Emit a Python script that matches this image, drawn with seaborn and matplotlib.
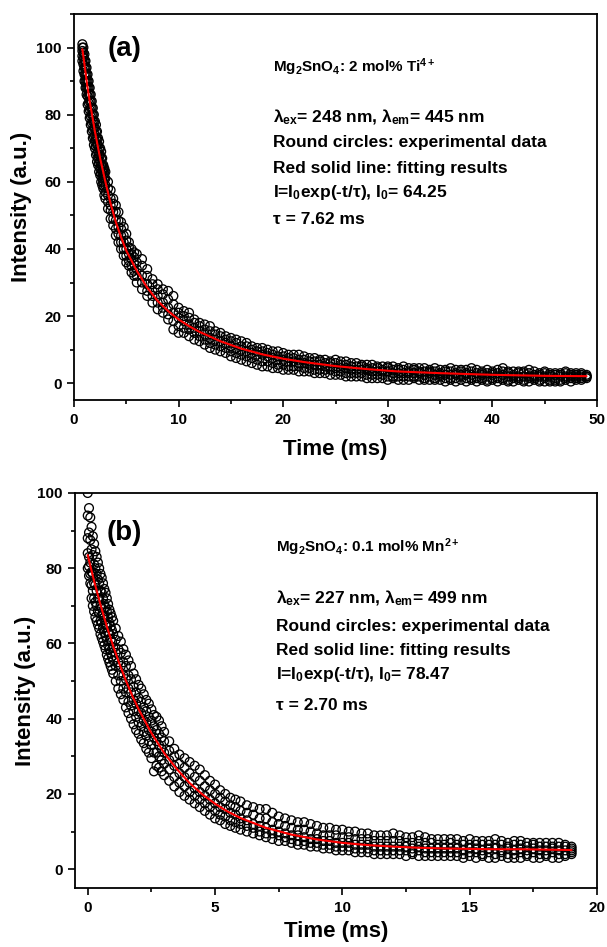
import matplotlib
matplotlib.use("Agg")
import matplotlib.pyplot as plt
from matplotlib.ticker import MultipleLocator
import pandas as pd
import seaborn as sns

# ---- panel (a): Mg2SnO4:2 mol% Ti4+
# readings across the band of circles: low edge, lower quarter, middle, upper quarter, high edge
t_a = [0.8, 0.9, 1.0, 1.1, 1.2, 1.3, 1.4, 1.5, 1.6, 1.7, 1.8, 1.9, 2.0, 2.1, 2.2, 2.3, 2.4, 2.5, 2.6, 2.7, 2.8, 2.9, 3.0,
       3.25, 3.5, 3.75, 4.0, 4.25, 4.5, 4.75, 5.0, 5.25, 5.5, 5.75, 6.0,
       6.5, 7.0, 7.5, 8.0, 8.5, 9.0, 9.5, 10.0, 10.5, 11.0,
       11.5, 12.0, 12.5, 13.0, 13.5, 14.0, 14.5, 15.0, 15.5, 16.0,
       16.5, 17.0, 17.5, 18.0, 18.5, 19.0, 19.5, 20.0, 20.5, 21.0,
       21.5, 22.0, 22.5, 23.0, 23.5, 24.0, 24.5, 25.0, 25.5, 26.0,
       26.5, 27.0, 27.5, 28.0, 28.5, 29.0, 29.5, 30.0, 30.5, 31.0,
       31.5, 32.0, 32.5, 33.0, 33.5, 34.0, 34.5, 35.0, 35.5, 36.0,
       36.5, 37.0, 37.5, 38.0, 38.5, 39.0, 39.5, 40.0, 40.5, 41.0,
       41.5, 42.0, 42.5, 43.0, 43.5, 44.0, 44.5, 45.0, 45.5, 46.0,
       46.5, 47.0, 47.5, 48.0, 48.5, 49.0]
lo_a = [96, 93, 90, 88, 86, 83, 81, 79, 77, 75, 73, 71, 70, 68, 66, 65, 63, 62, 60, 59, 58, 56, 55,
        52, 49, 47, 44, 42, 40, 38, 36, 35, 33, 32, 30,
        28, 26, 24, 22, 21, 19, 16, 15, 15, 14,
        13, 12.5, 11.5, 10.5, 10, 9.5, 9, 8, 7.5, 7,
        6.5, 6, 5.5, 5, 5, 4.5, 4.5, 4, 4, 4,
        3.5, 3.5, 3.5, 3, 3, 3, 2.5, 2.5, 2.5, 2,
        2, 2, 2, 1.5, 1.5, 1.5, 1.5, 1, 1.5, 1,
        1, 1, 1.5, 1, 1, 1, 1, 1, 0.5, 1,
        0.5, 1, 0.5, 1, 0.5, 1, 0.5, 1, 0.5, 1,
        0.5, 0.5, 1, 0.5, 0.5, 1, 0.5, 0.5, 0.5, 0.5,
        0.5, 1, 0.5, 1, 1, 1.5]
q1_a = [97.5, 95, 92, 90, 88, 85.5, 83.5, 81.5, 79.5, 77.5, 75.5, 73.5, 72, 70.5, 68.5, 67, 65.5, 64, 62.5, 61, 60, 58.5, 57,
        54, 51.5, 49, 46, 44.5, 42, 40, 38, 36.5, 35, 33.5, 32,
        30, 27.5, 26, 24, 22.5, 20.5, 18.5, 17, 16.5, 16,
        15, 14, 13, 12, 11.5, 11, 10.5, 9.5, 9, 8.5,
        8, 7.5, 7, 6.5, 6.5, 6, 5.5, 5.5, 5, 5,
        5, 4.5, 4.5, 4, 4, 4, 4, 3.5, 3.5, 3,
        3, 3, 3, 2.5, 2.5, 2.5, 2.5, 2, 2, 2,
        2, 2, 2, 2, 1.5, 2, 1.5, 2, 1.5, 1.5,
        1.5, 2, 1.5, 1.5, 1.5, 1.5, 1, 1.5, 1.5, 1.5,
        1, 1.5, 1.5, 1, 1.5, 1.5, 1, 1.5, 1, 1,
        1, 1.5, 1.5, 1.5, 1.5, 2]
mid_a = [99, 97, 94, 92, 90, 88, 86, 84, 82, 80, 78, 76, 74, 73, 71, 69, 68, 66, 65, 63, 62, 61, 59,
         56, 53, 51, 48.5, 46.5, 44, 42, 40, 38.5, 37, 35.5, 34,
         32, 29.5, 27.5, 26, 24, 22.5, 21, 19.5, 18.5, 17.5,
         16.5, 15.5, 14.5, 13.5, 13, 12.5, 12, 11, 10.5, 10,
         9.5, 9, 8.5, 8.5, 8, 7.5, 7, 7, 6.5, 6.5,
         6, 6, 5.5, 5.5, 5.5, 5, 5, 4.5, 4.5, 4.5,
         4, 4, 4, 4, 3.5, 3.5, 3.5, 3.5, 3, 3,
         3, 3, 3, 3, 2.5, 3, 2.5, 2.5, 2.5, 2.5,
         2.5, 2.5, 2.5, 2.5, 2, 2.5, 2, 2.5, 2, 2.5,
         2, 2, 2, 2, 2, 2, 2, 2, 2, 1.5,
         2, 2, 2, 2, 2, 2]
q3_a = [100, 98.5, 96, 94, 92, 90, 88, 86, 84, 82, 80, 78, 76, 75, 73, 71, 70, 68, 67, 65, 63.5, 62.5, 61,
        58, 55, 53.5, 51, 48.5, 46, 44, 42.5, 40.5, 38.5, 37.5, 36,
        35, 32, 29.5, 28, 26.5, 25, 23.5, 21, 20, 19.5,
        18, 17, 16, 15.5, 14.5, 14, 13, 12.5, 12, 11,
        11, 10, 9.5, 9.5, 9, 8.5, 8, 8, 7.5, 7.5,
        7, 7, 6.5, 6.5, 6.5, 6, 6, 6, 5.5, 5.5,
        5, 5, 5, 4.5, 4.5, 4.5, 4, 4.5, 4, 4,
        4, 3.5, 4, 3.5, 3.5, 3.5, 3.5, 3, 3.5, 3.5,
        3, 3.5, 3, 3.5, 3, 3, 3, 3, 3, 3.5,
        3, 2.5, 3, 3, 3, 2.5, 2.5, 3, 2.5, 2.5,
        2.5, 3, 2.5, 2.5, 2.5, 2]
hi_a = [101, 100, 98, 96, 94, 92, 90, 88, 86, 84, 82, 80, 78, 77, 75, 73, 72, 70, 69, 67, 65, 64, 63,
        60, 57.5, 55, 53, 51, 48, 46.5, 44.5, 42, 40, 39, 38.5,
        37, 34, 31, 29.5, 28, 27.5, 26, 22.5, 21.5, 21,
        19, 18, 17.5, 17, 15.5, 15, 14, 13.5, 13, 12.5,
        12, 11, 10.5, 10.5, 10, 9.5, 9.5, 9, 8.5, 8.5,
        8.5, 8, 7.5, 7.5, 7, 7, 6.5, 7, 6.5, 6.5,
        6, 6, 5.5, 5.5, 5.5, 5, 5, 5, 5, 4.5,
        5, 4.5, 4.5, 4.5, 4.5, 4, 4.5, 4, 4, 4.5,
        4, 4, 4, 4.5, 4, 3.5, 4, 3.5, 4, 4.5,
        3.5, 3.5, 3.5, 3.5, 4, 3.5, 3, 3.5, 3, 3,
        3, 3.5, 3, 3, 3, 2.5]
fit_t_a = [0.8, 1.0, 1.25, 1.5, 1.75, 2.0, 2.5, 3.0, 3.5, 4.0, 4.5, 5.0, 6.0, 7.0, 8.0, 9.0, 10, 11, 12,
           14, 16, 18, 20, 22, 25, 28, 31, 35, 40, 45, 49]
fit_i_a = [99.5, 95, 89, 84, 79.5, 75, 67, 60, 53.5, 48, 43.5, 39.5, 33.5, 28.5, 24.5, 21.5, 19, 17, 15.3,
           12.5, 10.3, 8.6, 7.3, 6.3, 5.1, 4.2, 3.5, 3.0, 2.5, 2.2, 2.1]

# ---- panel (b): Mg2SnO4:0.1 mol% Mn2+
t_b = [0.0, 0.05, 0.1, 0.15, 0.2, 0.25, 0.3, 0.35, 0.4, 0.45, 0.5, 0.55, 0.6, 0.65, 0.7, 0.75, 0.8, 0.85, 0.9, 0.95, 1.0,
       1.1, 1.2, 1.3, 1.4, 1.5, 1.6, 1.7, 1.8, 1.9, 2.0, 2.1, 2.2, 2.3, 2.4, 2.5, 2.6, 2.7, 2.8, 2.9, 3.0,
       3.2, 3.4, 3.6, 3.8, 4.0, 4.2, 4.4, 4.6, 4.8, 5.0, 5.2, 5.4, 5.6, 5.8, 6.0,
       6.25, 6.5, 6.75, 7.0, 7.25, 7.5, 7.75, 8.0, 8.25, 8.5, 8.75, 9.0, 9.25, 9.5, 9.75, 10.0,
       10.25, 10.5, 10.75, 11.0, 11.25, 11.5, 11.75, 12.0, 12.25, 12.5, 12.75, 13.0,
       13.25, 13.5, 13.75, 14.0, 14.25, 14.5, 14.75, 15.0, 15.25, 15.5, 15.75, 16.0,
       16.25, 16.5, 16.75, 17.0, 17.25, 17.5, 17.75, 18.0, 18.25, 18.5, 18.75, 19.0]
lo_b = [80, 78, 76, 72, 70, 68.5, 67, 66, 65, 64, 62.5, 61.5, 60.5, 59.5, 58.5, 57, 56, 55, 54, 53, 52,
        50, 48, 46.5, 45, 43, 41.5, 40, 38.5, 37, 36, 34.5, 33.5, 32, 31, 29.5, 26, 27.5, 27, 26, 25,
        23.5, 22, 20.5, 19.5, 18.5, 17.5, 16.5, 15.5, 14.5, 13.5, 13, 12, 11.5, 11, 10.5,
        10, 9.5, 9, 8.5, 8, 7.5, 7.5, 7, 6.5, 6.5, 6, 6, 5.5, 5.5, 5, 5,
        5, 4.5, 4.5, 4.5, 4, 4, 4, 4, 4, 3.5, 4, 3.5,
        3.5, 3.5, 3.5, 3.5, 3.5, 3.5, 3, 3.5, 3, 3.5, 3, 3,
        3.5, 3, 3, 3, 3.5, 3, 3, 3.5, 3, 3, 3.5, 4]
q1_b = [84, 80.5, 78.5, 75.5, 74, 72, 71, 70, 68.5, 68, 66, 65.5, 64, 63, 62, 61, 59.5, 58.5, 57.5, 56.5, 55.5,
        54, 51.5, 50, 48, 47, 44.5, 43.5, 42, 40.5, 39, 38, 36.5, 35.5, 34, 33, 31, 31, 30, 29, 28,
        26.5, 24.5, 23, 22, 20.5, 19.5, 18.5, 17.5, 16.5, 15.5, 14.5, 14, 13, 12.5, 12,
        11.5, 11, 10, 9.5, 9.5, 9, 8.5, 8, 7.5, 7.5, 7, 7, 6.5, 6.5, 6, 6,
        6, 5.5, 5.5, 5.5, 5, 5, 5, 5, 5, 5, 4.5, 5,
        4.5, 4.5, 4.5, 4.5, 4.5, 4.5, 4, 4.5, 4.5, 4, 4.5, 4,
        4.5, 4, 4, 4.5, 4, 4.5, 4, 4, 4.5, 4, 4, 4.5]
mid_b = [88, 83, 81.5, 79, 78.5, 76, 75.5, 74, 72, 72, 70, 69.5, 67.5, 67, 65, 65, 63, 62.5, 61, 60.5, 59,
         57.5, 55, 54, 51.5, 50.5, 48, 47, 45, 44, 42, 41.5, 39.5, 39, 37, 36.5, 35, 34, 33, 32, 31,
         29, 27.5, 25.5, 24.5, 23, 21.5, 20.5, 19.5, 18.5, 17.5, 16.5, 16, 15, 14.5, 13.5,
         13, 12, 11.5, 11, 10.5, 10, 9.5, 9, 9, 8.5, 8, 8, 7.5, 7.5, 7, 7,
         7, 6.5, 6.5, 6.5, 6, 6, 6, 6, 6, 6, 5.5, 6,
         5.5, 5.5, 5.5, 5.5, 5.5, 5.5, 5, 5.5, 5.5, 5, 5.5, 5.5,
         5, 5.5, 5, 5.5, 5, 5.5, 5, 5, 5.5, 5, 5, 5]
q3_b = [94, 89.5, 87.5, 85, 83.5, 81, 80, 78.5, 77, 76, 74, 73.5, 72, 70.5, 69.5, 68.5, 67, 65.5, 64.5, 63.5, 62.5,
        61, 58.5, 57.5, 55, 54, 51.5, 50.5, 48.5, 47, 45.5, 44.5, 43, 42, 40.5, 39.5, 38, 37, 36, 35, 34,
        31.5, 30, 28, 27, 25.5, 24.5, 23.5, 22, 21, 20, 19, 18, 17, 16.5, 15.5,
        15, 14.5, 13.5, 13.5, 12.5, 12, 11.5, 11, 10.5, 10.5, 10, 9.5, 9, 9, 9, 8.5,
        8.5, 8, 8, 8, 7.5, 7.5, 7.5, 7.5, 7.5, 7, 7, 7.5,
        7, 7, 6.5, 6.5, 7, 6.5, 6.5, 6.5, 6.5, 6.5, 6.5, 6.5,
        6.5, 6, 6.5, 6.5, 6, 6.5, 6, 6, 6, 6, 6, 5.5]
hi_b = [100, 96, 93.5, 91, 88.5, 86.5, 84.5, 83, 81.5, 80, 78.5, 77.5, 76, 74.5, 73.5, 72, 70.5, 69, 68, 67, 66,
        64, 62, 60.5, 58.5, 57, 55.5, 54, 52, 50.5, 49, 48, 46.5, 45, 44, 42.5, 41, 40.5, 39.5, 38, 36.5,
        34, 32, 30.5, 29.5, 28.5, 27.5, 26.5, 25, 23.5, 22.5, 21, 20, 19, 18.5, 18,
        17, 16.5, 16, 16, 15, 14, 13.5, 13, 12.5, 12.5, 12, 11.5, 11, 11, 10.5, 10.5,
        10, 10, 9.5, 9.5, 9, 9, 9, 9.5, 9, 8.5, 8.5, 9,
        8.5, 8, 8, 8, 8, 8, 7.5, 8, 7.5, 7.5, 7.5, 8,
        7.5, 7, 7.5, 7.5, 7, 7, 7, 7, 7, 7, 6.5, 6]
fit_t_b = [0, 0.25, 0.5, 0.75, 1, 1.25, 1.5, 1.75, 2, 2.5, 3, 3.5, 4, 4.5, 5, 5.5, 6, 7, 8, 9,
           10, 11, 12, 13, 14, 15, 16, 17, 18, 19]
fit_i_b = [83.5, 76.6, 70.3, 64.5, 59.3, 54.5, 50.1, 46.1, 42.5, 36.2, 30.9, 26.6, 22.9, 19.9, 17.4, 15.3,
           13.6, 11.0, 9.2, 7.9, 7.0, 6.4, 6.0, 5.7, 5.5, 5.4, 5.3, 5.3, 5.2, 5.1]

label_a = "(a)"
label_b = "(b)"
notes_a = [r"Mg$_2$SnO$_4$: 2 mol% Ti$^{4+}$",
           r"λ$_{\rm ex}$= 248 nm, λ$_{\rm em}$= 445 nm",
           "Round circles: experimental data",
           "Red solid line: fitting results",
           r"I=I$_0$exp(-t/τ), I$_0$= 64.25",
           "τ = 7.62 ms"]
notes_b = [r"Mg$_2$SnO$_4$: 0.1 mol% Mn$^{2+}$",
           r"λ$_{\rm ex}$= 227 nm, λ$_{\rm em}$= 499 nm",
           "Round circles: experimental data",
           "Red solid line: fitting results",
           r"I=I$_0$exp(-t/τ), I$_0$= 78.47",
           "τ = 2.70 ms"]

sns.set_style("ticks")
plt.rcParams["font.family"] = ["Liberation Sans", "DejaVu Sans"]
plt.rcParams["font.weight"] = "bold"
plt.rcParams["axes.labelweight"] = "bold"
for key in ["text.color", "axes.labelcolor", "xtick.color", "ytick.color", "axes.edgecolor"]:
    plt.rcParams[key] = "black"
plt.rcParams["mathtext.fontset"] = "custom"
plt.rcParams["mathtext.rm"] = "Liberation Sans:bold"
plt.rcParams["mathtext.it"] = "Liberation Sans:bold"
plt.rcParams["mathtext.bf"] = "Liberation Sans:bold"


def band_frame(t, rows):
    n = len(t)
    parts = []
    for k, vals in enumerate(rows):
        assert len(vals) == n, (k, len(vals), n)
        parts.append(pd.DataFrame({"t": t, "I": vals, "row": k}))
    df = pd.concat(parts, ignore_index=True)
    return df.sort_values(["t", "row"], kind="stable")


def draw_panel(ax, df, fit_t, fit_i, xmaj, xmin, xlim, ylim, xpad, ypad):
    sns.scatterplot(data=df, x="t", y="I", ax=ax, marker="o", s=40, color="black",
                    facecolor="none", edgecolor="black", linewidth=0.95, legend=False, zorder=2)
    sns.lineplot(x=fit_t, y=fit_i, ax=ax, color="red", linewidth=1.5, sort=False, zorder=3)
    ax.set_xlim(*xlim)
    ax.set_ylim(*ylim)
    ax.xaxis.set_major_locator(MultipleLocator(xmaj))
    ax.xaxis.set_minor_locator(MultipleLocator(xmin))
    ax.yaxis.set_major_locator(MultipleLocator(20))
    ax.yaxis.set_minor_locator(MultipleLocator(10))
    ax.tick_params(which="major", direction="out", length=5, width=1.2, labelsize=11,
                   top=False, right=False, pad=4)
    ax.tick_params(which="minor", direction="out", length=3, width=1.2, top=False, right=False)
    for sp in ax.spines.values():
        sp.set_linewidth(1.3)
    ax.set_xlabel("Time (ms)", fontsize=16, labelpad=xpad)
    ax.set_ylabel("Intensity (a.u.)", fontsize=16, labelpad=ypad)


W, H = 607, 947
fig = plt.figure(figsize=(W / 100, H / 100), dpi=100)
ax_a = fig.add_axes([74 / W, 1 - 400 / H, 523 / W, 386 / H])
ax_b = fig.add_axes([75 / W, 1 - 888 / H, 522 / W, 395 / H])

draw_panel(ax_a, band_frame(t_a, [lo_a, q1_a, mid_a, q3_a, hi_a]), fit_t_a, fit_i_a,
           10, 5, (0, 50), (-5, 110), 9, 3)
draw_panel(ax_b, band_frame(t_b, [lo_b, q1_b, mid_b, q3_b, hi_b]), fit_t_b, fit_i_b,
           5, 2.5, (-0.5, 20), (-5, 100), 5, 1)

fig.text(125 / W, 1 - 49 / H, label_a, fontsize=20, ha="center", va="center")
fig.text(124 / W, 1 - 533 / H, label_b, fontsize=20, ha="center", va="center")

ys_a = [67, 117, 143, 168, 193, 220]
ys_b = [547, 598, 627, 651, 675, 705]
for i, (txt, y) in enumerate(zip(notes_a, ys_a)):
    fig.text(273 / W, 1 - y / H, txt, fontsize=11 if i == 0 else 12.5, ha="left", va="center")
for i, (txt, y) in enumerate(zip(notes_b, ys_b)):
    fig.text(276 / W, 1 - y / H, txt, fontsize=11 if i == 0 else 12.5, ha="left", va="center")

fig.savefig("out.png", dpi=100)
